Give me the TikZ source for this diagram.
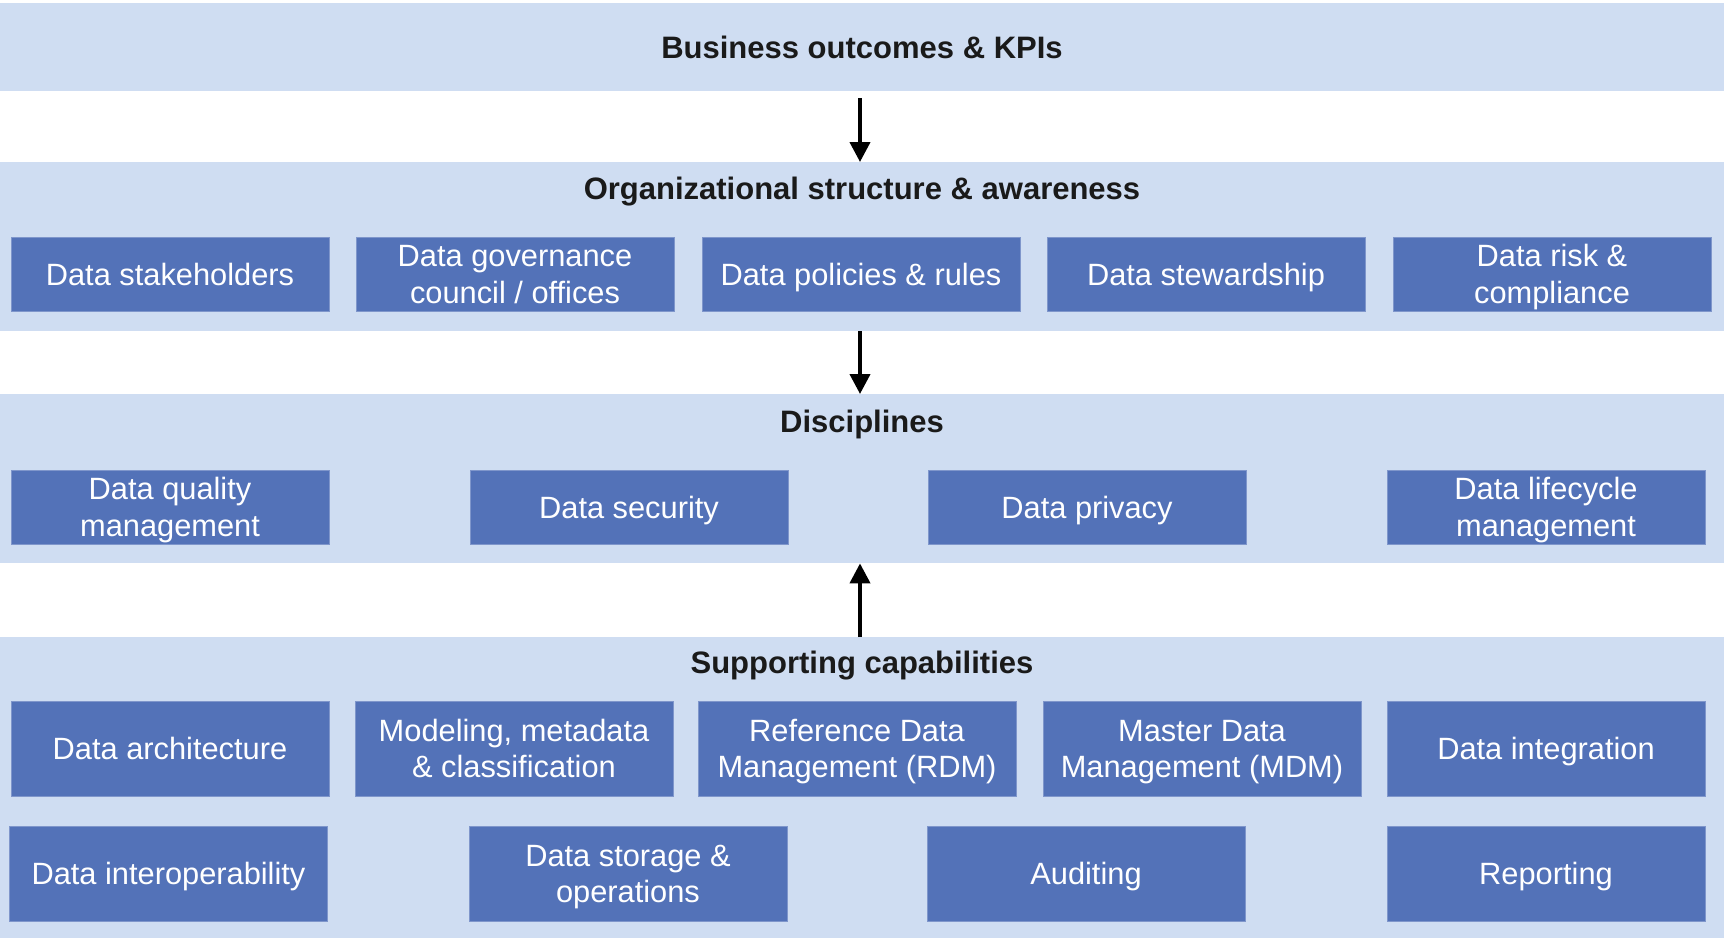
\documentclass[tikz,border=0pt]{standalone}
\usepackage{fontspec}
\setmainfont{Liberation Sans}
\usetikzlibrary{arrows.meta}
\definecolor{bandblue}{HTML}{CFDDF2}
\definecolor{boxblue}{HTML}{5372B8}
\definecolor{boxedge}{HTML}{7F96CB}
\definecolor{titletext}{HTML}{1A1A1A}
\tikzset{
  band/.style={fill=bandblue, draw=none, minimum width=1724pt, inner sep=0pt, anchor=north west},
  box/.style={fill=boxblue, draw=boxedge, line width=0.6pt, minimum width=318pt, minimum height=74pt,
    text=white, font=\fontsize{30.8}{36.5}\selectfont, align=center, inner sep=0pt,
    text height=22pt, text depth=0pt},
  two/.style={text height=58.5pt, text depth=0pt},
  tallbox/.style={box, minimum height=95pt},
  bandtitle/.style={font=\bfseries\fontsize{31}{37}\selectfont, text=titletext, inner sep=0pt,
    text height=22.2pt, text depth=0pt},
  arr/.style={draw=black, line width=4pt, -{Triangle[width=20pt,length=20pt]}}
}
\begin{document}
\begin{tikzpicture}[x=1pt,y=-1pt]
\useasboundingbox (0,0) rectangle (1725,938);
% bands
\node[band, minimum height=88pt] (b1) at (0,3) {};
\node[band, minimum height=169pt] (b2) at (0,162) {};
\node[band, minimum height=169pt] (b3) at (0,394) {};
\node[band, minimum height=301pt] (b4) at (0,637) {};
% titles
\node[bandtitle] (t1) at (862,47.8) {Business outcomes \& KPIs};
\node[bandtitle] (t2) at (862,188.8) {Organizational structure \& awareness};
\node[bandtitle] (t3) at (862,421.2) {Disciplines};
\node[bandtitle] (t4) at (862,662.8) {Supporting capabilities};
% band 2 boxes
\node[box] (o1) at (170,274) {Data stakeholders};
\node[box, two] (o2) at (515,274) {Data governance\\council / offices};
\node[box] (o3) at (861,274) {Data policies \& rules};
\node[box] (o4) at (1206,274) {Data stewardship};
\node[box, two] (o5) at (1552,274) {Data risk \&\\compliance};
% band 3 boxes
\node[box, two] (d1) at (170,507) {Data quality\\management};
\node[box] (d2) at (629,507) {Data security};
\node[box] (d3) at (1087,507) {Data privacy};
\node[box, two] (d4) at (1546,507) {Data lifecycle\\management};
% band 4 boxes
\node[tallbox] (s1) at (170,748.5) {Data architecture};
\node[tallbox, two] (s2) at (514,748.5) {Modeling, metadata\\\& classification};
\node[tallbox, two] (s3) at (857,748.5) {Reference Data\\Management (RDM)};
\node[tallbox, two] (s4) at (1202,748.5) {Master Data\\Management (MDM)};
\node[tallbox] (s5) at (1546,748.5) {Data integration};
\node[tallbox] (s6) at (168.5,873.5) {Data interoperability};
\node[tallbox, two] (s7) at (628,873.5) {Data storage \&\\operations};
\node[tallbox] (s8) at (1086,873.5) {Auditing};
\node[tallbox] (s9) at (1546,873.5) {Reporting};
% arrows
\coordinate (a1s) at ([yshift=-7pt]b1.south);
\draw[arr] (a1s -| 860,0) -- (b2.north -| 860,0);
\draw[arr] (b2.south -| 860,0) -- (b3.north -| 860,0);
\draw[arr] (b4.north -| 860,0) -- (b3.south -| 860,0);
\end{tikzpicture}
\end{document}
